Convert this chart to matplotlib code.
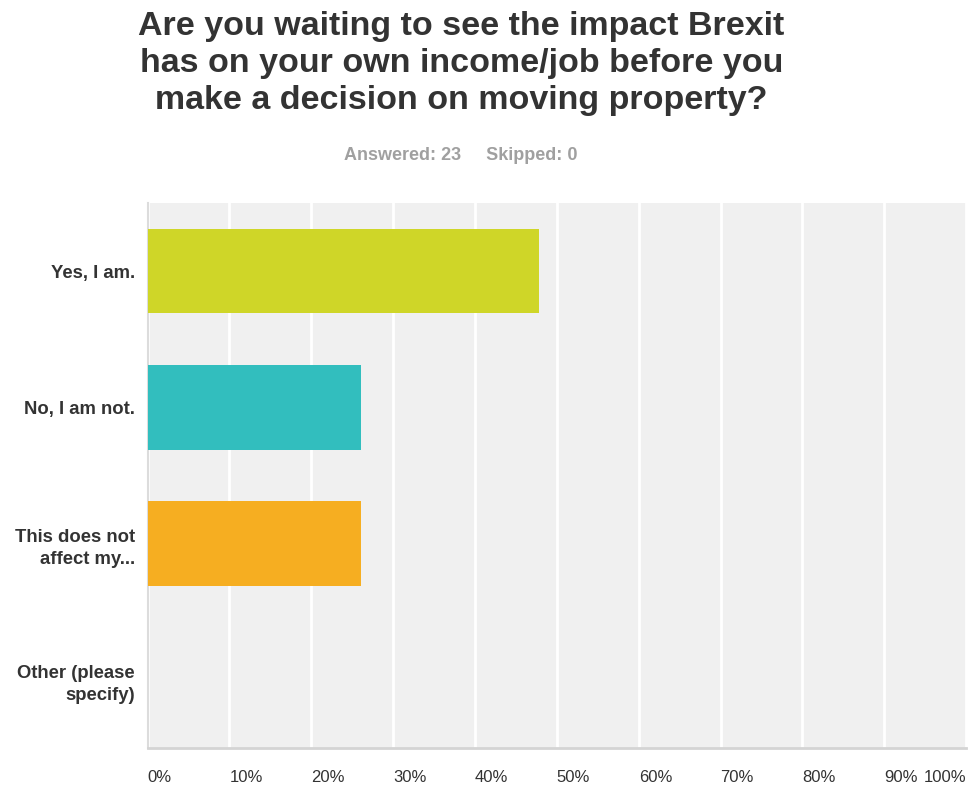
import numpy as np
import matplotlib
matplotlib.use("Agg")
import matplotlib.pyplot as plt

plt.rcParams['font.family'] = ['Liberation Sans', 'DejaVu Sans']

categories = ["Yes, I am.", "No, I am not.", "This does not\naffect my...", "Other (please\nspecify)"]
percent = [47.83, 26.09, 26.09, 0.0]
colors = ["#cfd628", "#32bebe", "#f6ae21", "#9b59b6"]
ticks = [0, 10, 20, 30, 40, 50, 60, 70, 80, 90, 100]

fig = plt.figure(figsize=(9.71, 7.90), dpi=100)
ax = fig.add_axes([0.152, 0.053, 0.843, 0.690])
ax.set_facecolor("#f0f0f0")

y = np.arange(len(categories))
ax.barh(y, percent, height=0.62, color=colors, zorder=3)

ax.set_xlim(0, 100)
ax.set_ylim(len(categories) - 0.5, -0.5)
ax.set_xticks(ticks)
ax.grid(axis="x", color="white", linewidth=2, zorder=1)
ax.set_axisbelow(True)

for s in ["top", "right"]:
    ax.spines[s].set_visible(False)
ax.spines["left"].set_color("#dcdcdc")
ax.spines["bottom"].set_color("#d4d4d4")
ax.spines["left"].set_linewidth(1.5)
ax.spines["bottom"].set_linewidth(2)

ax.set_yticks(y)
ax.set_yticklabels(categories, fontsize=13.3, fontweight="bold", color="#333333",
                   linespacing=1.4)
ax.tick_params(axis="y", length=0, pad=9)
ax.tick_params(axis="x", length=0, pad=16)

labels = ax.set_xticklabels([f"{t}%" for t in ticks], fontsize=12, color="#333333")
for lab in labels[:-1]:
    lab.set_horizontalalignment("left")
labels[-1].set_horizontalalignment("right")

fig.text(0.475, 0.986, "Are you waiting to see the impact Brexit\nhas on your own income/job before you\nmake a decision on moving property?",
         ha="center", va="top", fontsize=24.5, fontweight="bold", color="#333333",
         linespacing=1.24)
fig.text(0.475, 0.803, "Answered: 23     Skipped: 0", ha="center", va="center",
         fontsize=13, fontweight="bold", color="#a0a0a0")

fig.savefig("out.png", dpi=100)
